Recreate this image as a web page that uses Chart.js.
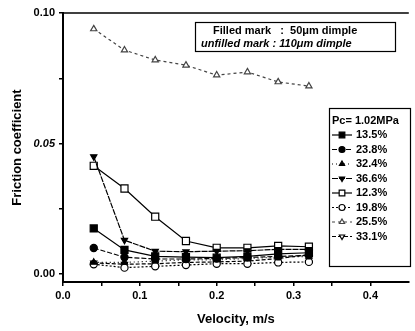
<!DOCTYPE html>
<html>
<head>
<meta charset="utf-8">
<script src="https://cdn.jsdelivr.net/npm/chart.js@4.4.0/dist/chart.umd.min.js"></script>
<style>
  html, body { margin: 0; padding: 0; background: #fff; }
  #wrap { width: 415px; height: 331px; }
</style>
</head>
<body>
<div id="wrap"><canvas id="chart"></canvas></div>
<script>
// ==================== DATA ====================

const velocity = [0.04, 0.08, 0.12, 0.16, 0.20, 0.24, 0.28, 0.32];

// filled marks : 50um dimple
const f135 = [0.0175, 0.0093, 0.0068, 0.0065, 0.0063, 0.0068, 0.0078, 0.0082];
const f238 = [0.0100, 0.0065, 0.0058, 0.0058, 0.0060, 0.0064, 0.0068, 0.0072];
const f324 = [0.0045, 0.0045, 0.0050, 0.0055, 0.0055, 0.0060, 0.0065, 0.0068];
const f366 = [0.0450, 0.0130, 0.0088, 0.0086, 0.0088, 0.0090, 0.0095, 0.0095];
// unfilled marks : 110um dimple
const u123 = [0.0415, 0.0328, 0.0220, 0.0127, 0.0101, 0.0101, 0.0108, 0.0105];
const u198 = [0.0038, 0.0025, 0.0030, 0.0035, 0.0040, 0.0040, 0.0045, 0.0047];
const u255 = [0.0939, 0.0858, 0.0820, 0.0800, 0.0762, 0.0774, 0.0736, 0.0720];
const u331 = [0.0043, 0.0038, 0.0040, 0.0045, 0.0047, 0.0050, 0.0060, 0.0075];

const xTicks = [0, 0.05, 0.1, 0.15, 0.2, 0.25, 0.3, 0.35, 0.4];
const yTicks = [0, 0.025, 0.05, 0.075, 0.1];

const FONT = '"Liberation Sans", Arial, sans-serif';

// ==================== HELPERS ====================

function points(arr) {
    return velocity.map((v, i) => ({ x: v, y: arr[i] }));
}

function series(label, arr, style, filled, dash, rotation, color) {
    color = color || '#000';
    return {
        label: label,
        data: points(arr),
        borderColor: color,
        borderWidth: 1.2,
        borderDash: dash,
        pointStyle: style,
        pointRotation: rotation || 0,
        pointRadius: style === 'rect' ? 5 : 3.6,
        pointBorderWidth: 1.2,
        pointBorderColor: color,
        pointBackgroundColor: filled ? color : '#fff',
        tension: 0
    };
}

// ==================== PLUGIN ====================

const boxesPlugin = {
    id: 'boxes',
    afterDraw(chart) {
        const ctx = chart.ctx;
        const area = chart.chartArea;
        ctx.save();

        // top frame line
        ctx.strokeStyle = '#000';
        ctx.lineWidth = 1.5;
        ctx.beginPath();
        ctx.moveTo(area.left, area.top);
        ctx.lineTo(area.right, area.top);
        ctx.stroke();

        // dimple size box
        ctx.lineWidth = 1.2;
        ctx.strokeRect(195.5, 22.5, 200, 29);
        ctx.fillStyle = '#000';
        ctx.textBaseline = 'middle';
        ctx.font = 'bold 11px ' + FONT;
        ctx.fillText('Filled mark   :  50\u03bcm dimple', 213, 31);
        ctx.font = 'italic bold 11px ' + FONT;
        ctx.fillText('unfilled mark : 110\u03bcm dimple', 201, 44);

        // series legend
        ctx.strokeRect(329.5, 108.5, 81, 158);
        ctx.font = 'bold 11px ' + FONT;
        ctx.fillText('Pc= 1.02MPa', 332, 121);
        chart.data.datasets.forEach((ds, i) => {
            const y = 135 + i * 14.5;
            ctx.strokeStyle = ds.borderColor;
            ctx.lineWidth = 1.2;
            ctx.setLineDash(ds.borderDash || []);
            ctx.beginPath();
            ctx.moveTo(332, y);
            ctx.lineTo(352, y);
            ctx.stroke();
            ctx.setLineDash([]);
            ctx.fillStyle = ds.pointBackgroundColor;
            Chart.helpers.drawPoint(ctx, {
                pointStyle: ds.pointStyle,
                radius: ds.pointStyle === 'rect' ? 4 : 3,
                rotation: ds.pointRotation,
                borderWidth: 1
            }, 342, y);
            ctx.fillStyle = '#000';
            ctx.font = 'bold 11px ' + FONT;
            ctx.fillText(ds.label, 356, y);
        });
        ctx.restore();
    }
};

// ==================== CHART ====================

new Chart(document.getElementById('chart'), {
    type: 'line',
    data: {
        datasets: [
            series('13.5%', f135, 'rect', true, []),
            series('23.8%', f238, 'circle', true, [5, 2]),
            series('32.4%', f324, 'triangle', true, [1, 3]),
            series('36.6%', f366, 'triangle', true, [6, 1], 180),
            series('12.3%', u123, 'rect', false, []),
            series('19.8%', u198, 'circle', false, [2, 2]),
            series('25.5%', u255, 'triangle', false, [3, 3], 0, '#444'),
            series('33.1%', u331, 'triangle', false, [4, 2], 180)
        ]
    },
    options: {
        responsive: true,
        maintainAspectRatio: false,
        animation: false,
        layout: { padding: { top: 13, right: 0, left: 0, bottom: 0 } },
        plugins: {
            legend: { display: false },
            tooltip: { enabled: false }
        },
        scales: {
            x: {
                type: 'linear',
                min: 0,
                max: 0.45,
                afterFit: s => { s.height = 49; },
                afterBuildTicks: s => { s.ticks = xTicks.map(v => ({ value: v })); },
                border: { display: true, color: '#000', width: 2 },
                grid: { drawOnChartArea: false, drawTicks: true, tickLength: 4, color: '#000', lineWidth: 1.5 },
                ticks: {
                    color: '#000',
                    padding: 3,
                    maxRotation: 0,
                    autoSkip: false,
                    font: { family: FONT, size: 11, weight: 'bold' },
                    callback: v => (Math.round(v * 100) % 10 === 0 ? v.toFixed(1) : '')
                },
                title: {
                    display: true,
                    text: 'Velocity, m/s',
                    color: '#000',
                    padding: { top: 4, bottom: 4 },
                    font: { family: FONT, size: 13, weight: 'bold' }
                }
            },
            y: {
                type: 'linear',
                min: -0.003,
                max: 0.1,
                afterFit: s => { s.width = 63; },
                afterBuildTicks: s => { s.ticks = yTicks.map(v => ({ value: v })); },
                border: { display: true, color: '#000', width: 2 },
                grid: { drawOnChartArea: false, drawTicks: true, tickLength: 4, color: '#000', lineWidth: 1.5 },
                ticks: {
                    color: '#000',
                    padding: 4,
                    autoSkip: false,
                    font: c => ({
                        family: FONT, size: 11, weight: 'bold',
                        style: c.tick && Math.abs(c.tick.value - 0.05) < 1e-6 ? 'italic' : 'normal'
                    }),
                    callback: v => (Math.round(v * 1000) % 50 === 0 ? v.toFixed(2) : '')
                },
                title: {
                    display: true,
                    text: 'Friction coefficient',
                    color: '#000',
                    padding: { top: 10, bottom: 10 },
                    font: { family: FONT, size: 13, weight: 'bold' }
                }
            }
        }
    },
    plugins: [boxesPlugin]
});
</script>
</body>
</html>
